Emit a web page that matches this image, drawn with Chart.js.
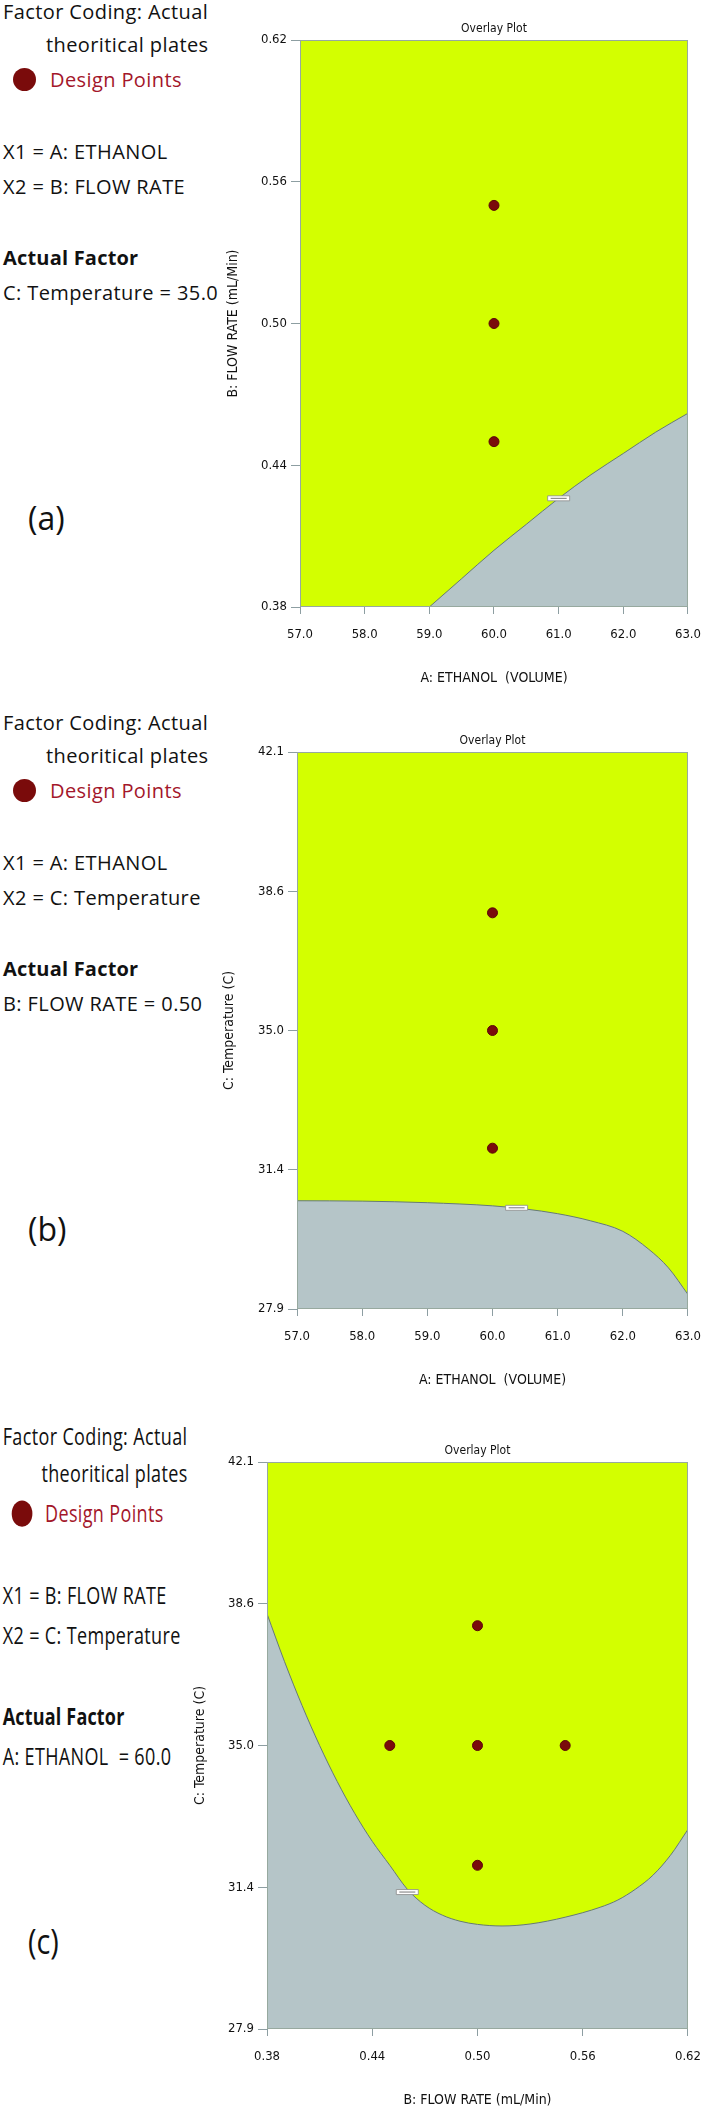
<!DOCTYPE html>
<html>
<head>
<meta charset="utf-8">
<script src="https://cdn.jsdelivr.net/npm/chart.js@4.4.1/dist/chart.umd.min.js"></script>
<style>
  html,body{margin:0;padding:0;background:#fff;}
  body{width:714px;height:2110px;position:relative;overflow:hidden;font-family:"Open Sans",sans-serif;}
  .block{position:absolute;left:0;width:270px;height:320px;transform-origin:0 0;}
  .ln{position:absolute;left:3px;white-space:pre;font-size:20px;letter-spacing:0.4px;line-height:24px;height:24px;color:#111;}
  .ln.b{font-weight:700;letter-spacing:0.2px;}
  .ln.red{color:#a3162a;}
  .dot{position:absolute;width:23px;height:23px;border-radius:50%;background:#7a0b0b;}
  .tag{position:absolute;font-size:32px;line-height:38px;color:#111;white-space:pre;}
  canvas{position:absolute;left:190px;}
</style>
</head>
<body>

<div class="block" style="top:0px;">
  <div class="ln" style="top:0px;">Factor Coding: Actual</div>
  <div class="ln" style="top:33px;left:46px;">theoritical plates</div>
  <div class="dot" style="left:13px;top:68px;"></div>
  <div class="ln red" style="top:68px;left:50px;">Design Points</div>
  <div class="ln" style="top:140px;">X1 = A: ETHANOL</div>
  <div class="ln" style="top:175px;">X2 = B: FLOW RATE</div>
  <div class="ln b" style="top:246px;">Actual Factor</div>
  <div class="ln" style="top:281px;">C: Temperature = 35.0</div>
</div>
<div class="tag" style="left:28px;top:499px;">(a)</div>

<div class="block" style="top:711px;">
  <div class="ln" style="top:0px;">Factor Coding: Actual</div>
  <div class="ln" style="top:33px;left:46px;">theoritical plates</div>
  <div class="dot" style="left:13px;top:68px;"></div>
  <div class="ln red" style="top:68px;left:50px;">Design Points</div>
  <div class="ln" style="top:140px;">X1 = A: ETHANOL</div>
  <div class="ln" style="top:175px;">X2 = C: Temperature</div>
  <div class="ln b" style="top:246px;">Actual Factor</div>
  <div class="ln" style="top:281px;">B: FLOW RATE = 0.50</div>
</div>
<div class="tag" style="left:28px;top:1210px;">(b)</div>

<div class="block" style="top:1423px;transform:scale(0.9,1.14);">
  <div class="ln" style="top:0px;">Factor Coding: Actual</div>
  <div class="ln" style="top:33px;left:46px;">theoritical plates</div>
  <div class="dot" style="left:13px;top:68px;"></div>
  <div class="ln red" style="top:68px;left:50px;">Design Points</div>
  <div class="ln" style="top:140px;">X1 = B: FLOW RATE</div>
  <div class="ln" style="top:175px;">X2 = C: Temperature</div>
  <div class="ln b" style="top:246px;">Actual Factor</div>
  <div class="ln" style="top:281px;">A: ETHANOL  = 60.0</div>
</div>
<div class="tag" style="left:28px;top:1920px;transform:scale(0.9,1.1);transform-origin:0 0;">(c)</div>

<canvas id="ca" width="524" height="700" style="top:0px;"></canvas>
<canvas id="cb" width="524" height="700" style="top:712px;"></canvas>
<canvas id="cc" width="524" height="688" style="top:1422px;"></canvas>

<script>
// ---------- tick values & labels ----------
const ethanolTicks = [57, 58, 59, 60, 61, 62, 63];
const ethanolTickLabels = ["57.0", "58.0", "59.0", "60.0", "61.0", "62.0", "63.0"];
const flowTicks = [0.38, 0.44, 0.50, 0.56, 0.62];
const flowTickLabels = ["0.38", "0.44", "0.50", "0.56", "0.62"];
const tempTicks = [27.9, 31.45, 35.0, 38.55, 42.1];
const tempTickLabels = ["27.9", "31.4", "35.0", "38.6", "42.1"];

// ---------- panel (a): ETHANOL vs FLOW RATE ----------
const aBoundaryEthanol = [59.0, 59.5, 60.0, 60.5, 61.0, 61.5, 62.0, 62.5, 63.0];
const aBoundaryFlow    = [0.380, 0.392, 0.404, 0.415, 0.426, 0.436, 0.445, 0.454, 0.462];
const aDesignEthanol = [60, 60, 60];
const aDesignFlow    = [0.45, 0.50, 0.55];
const aContourLabel  = [61.0, 0.426];

// ---------- panel (b): ETHANOL vs Temperature ----------
const bBoundaryEthanol = [57, 58, 59, 60, 60.5, 61, 61.5, 62, 62.4, 62.7, 63];
const bBoundaryTemp    = [30.66, 30.65, 30.61, 30.53, 30.45, 30.33, 30.15, 29.88, 29.42, 28.95, 28.27];
const bDesignEthanol = [60, 60, 60];
const bDesignTemp    = [32, 35, 38];
const bContourLabel  = [60.37, 30.48];

// ---------- panel (c): FLOW RATE vs Temperature ----------
const cBoundaryFlow = [0.38, 0.39, 0.40, 0.41, 0.42, 0.43, 0.44, 0.45, 0.46, 0.47, 0.48, 0.49, 0.50, 0.514, 0.53, 0.55, 0.57, 0.58, 0.59, 0.60, 0.61, 0.62];
const cBoundaryTemp = [38.3, 37.1, 36.0, 35.0, 34.1, 33.3, 32.6, 32.0, 31.4, 31.0, 30.75, 30.6, 30.52, 30.48, 30.53, 30.7, 30.95, 31.13, 31.4, 31.75, 32.25, 32.9];
const cDesignFlow = [0.45, 0.50, 0.50, 0.50, 0.55];
const cDesignTemp = [35, 32, 35, 38, 35];
const cContourLabel = [0.46, 31.33];

// ---------- styling ----------
const YELLOW = '#d3ff00';
const GRAY = '#b5c5c8';
const AXISC = '#8d9ea2';
const narrow = '"Liberation Sans Narrow","DejaVu Sans Condensed","Open Sans",sans-serif';

const pairs = (xs, ys) => xs.map((x, i) => ({x: x, y: ys[i]}));

const areaPlugin = {
  id: 'areaPlugin',
  beforeDatasetsDraw(chart) {
    const {ctx, chartArea: a} = chart;
    ctx.save();
    ctx.fillStyle = YELLOW;
    ctx.fillRect(a.left, a.top, a.right - a.left, a.bottom - a.top);
    ctx.restore();
  },
  afterDatasetsDraw(chart, args, opts) {
    const {ctx, chartArea: a} = chart;
    ctx.save();
    ctx.strokeStyle = '#97a99f';
    ctx.lineWidth = 1;
    ctx.strokeRect(a.left + 0.5, a.top + 0.5, a.right - a.left - 1, a.bottom - a.top - 1);
    if (opts && opts.label) {
      const px = chart.scales.x.getPixelForValue(opts.label[0]);
      const py = chart.scales.y.getPixelForValue(opts.label[1]);
      ctx.fillStyle = '#ffffff';
      ctx.strokeStyle = '#8a8a8a';
      ctx.lineWidth = 0.8;
      ctx.beginPath();
      ctx.rect(px - 11, py - 2.5, 22, 5);
      ctx.fill();
      ctx.stroke();
      ctx.fillStyle = '#777';
      ctx.fillRect(px - 8, py - 0.5, 16, 1);
    }
    ctx.restore();
  }
};

function makeChart(id, cfg) {
  const canvas = document.getElementById(id);
  const H = canvas.height;
  return new Chart(canvas, {
    data: {
      datasets: [
        {
          type: 'line',
          data: cfg.boundary,
          borderColor: '#667a76',
          borderWidth: 1,
          backgroundColor: GRAY,
          fill: 'start',
          pointRadius: 0,
          tension: 0.4,
          cubicInterpolationMode: 'monotone',
          order: 2
        },
        {
          type: 'scatter',
          data: cfg.design,
          backgroundColor: '#7a0b0b',
          borderColor: '#5c0707',
          borderWidth: 1,
          pointRadius: 5,
          order: 1
        }
      ]
    },
    options: {
      responsive: false,
      animation: false,
      devicePixelRatio: 1,
      layout: {padding: {left: 0, right: cfg.padRight, top: 0, bottom: 0}},
      plugins: {
        legend: {display: false},
        tooltip: {enabled: false},
        title: {
          display: true,
          text: 'Overlay Plot',
          fullSize: false,
          color: '#111',
          font: {family: narrow, size: 12, weight: 'normal', lineHeight: 1.2},
          padding: {top: 21.6, bottom: 4}
        },
        areaPlugin: {label: cfg.label}
      },
      scales: {
        x: {
          type: 'linear',
          position: 'bottom',
          min: cfg.xTicks[0],
          max: cfg.xTicks[cfg.xTicks.length - 1],
          afterBuildTicks: s => { s.ticks = cfg.xTicks.map(v => ({value: v})); },
          afterFit: s => { s.height = H - cfg.areaBottom; },
          ticks: {
            autoSkip: false, maxRotation: 0, padding: 13,
            color: '#111',
            font: {family: narrow, size: 13},
            callback: (v, i) => cfg.xLabels[i]
          },
          grid: {drawOnChartArea: false, drawTicks: true, tickLength: 7, color: AXISC},
          border: {display: false},
          title: {
            display: true, text: cfg.xTitle, color: '#111',
            font: {family: narrow, size: 14, lineHeight: 1.2},
            padding: {top: 0, bottom: (H - cfg.areaBottom) - 71 - 8.4}
          }
        },
        y: {
          type: 'linear',
          position: 'left',
          min: cfg.yTicks[0],
          max: cfg.yTicks[cfg.yTicks.length - 1],
          afterBuildTicks: s => { s.ticks = cfg.yTicks.map(v => ({value: v})); },
          afterFit: s => { s.width = cfg.areaLeft; },
          ticks: {
            autoSkip: false, padding: 4,
            color: '#111',
            font: {family: narrow, size: 13},
            callback: (v, i) => cfg.yLabels[i]
          },
          grid: {drawOnChartArea: false, drawTicks: true, tickLength: 9, color: AXISC},
          border: {display: false},
          title: {
            display: true, text: cfg.yTitle, color: '#111',
            font: {family: narrow, size: 14, lineHeight: 1.2},
            padding: {top: cfg.yTitleX - 8.4, bottom: 0}
          }
        }
      }
    },
    plugins: [areaPlugin]
  });
}

makeChart('ca', {
  boundary: pairs(aBoundaryEthanol, aBoundaryFlow),
  design: pairs(aDesignEthanol, aDesignFlow),
  label: aContourLabel,
  xTicks: ethanolTicks, xLabels: ethanolTickLabels,
  yTicks: flowTicks, yLabels: flowTickLabels,
  xTitle: 'A: ETHANOL  (VOLUME)', yTitle: 'B: FLOW RATE (mL/Min)',
  areaLeft: 110, padRight: 12, areaBottom: 607, yTitleX: 43
});

makeChart('cb', {
  boundary: pairs(bBoundaryEthanol, bBoundaryTemp),
  design: pairs(bDesignEthanol, bDesignTemp),
  label: bContourLabel,
  xTicks: ethanolTicks, xLabels: ethanolTickLabels,
  yTicks: tempTicks, yLabels: tempTickLabels,
  xTitle: 'A: ETHANOL  (VOLUME)', yTitle: 'C: Temperature (C)',
  areaLeft: 107, padRight: 11, areaBottom: 597, yTitleX: 39
});

makeChart('cc', {
  boundary: pairs(cBoundaryFlow, cBoundaryTemp),
  design: pairs(cDesignFlow, cDesignTemp),
  label: cContourLabel,
  xTicks: flowTicks, xLabels: flowTickLabels,
  yTicks: tempTicks, yLabels: tempTickLabels,
  xTitle: 'B: FLOW RATE (mL/Min)', yTitle: 'C: Temperature (C)',
  areaLeft: 77, padRight: 12, areaBottom: 607, yTitleX: 10
});
</script>
</body>
</html>
